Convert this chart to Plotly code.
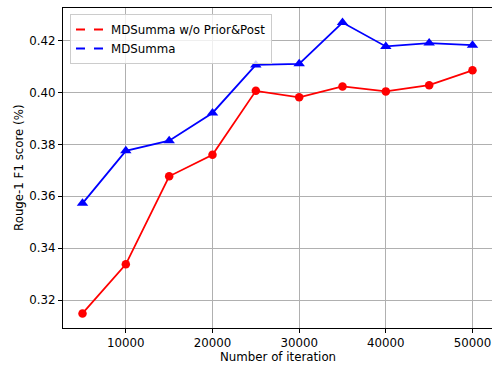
import plotly.graph_objects as go

iterations = [5000, 10000, 15000, 20000, 25000, 30000, 35000, 40000, 45000, 50000]
wo_prior_post = [0.3149, 0.3338, 0.3677, 0.3760, 0.4006, 0.3981, 0.4023, 0.4004, 0.4028, 0.4085]
mdsumma = [0.3573, 0.3775, 0.3814, 0.3921, 0.4106, 0.4110, 0.4269, 0.4177, 0.4190, 0.4182]
x_ticks = [10000, 20000, 30000, 40000, 50000]
y_ticks = [0.32, 0.34, 0.36, 0.38, 0.40, 0.42]

font = "DejaVu Sans"
fs = 11.8

fig = go.Figure()
fig.add_trace(go.Scatter(x=iterations, y=wo_prior_post, mode="lines+markers",
                         line=dict(color="red", width=1.8),
                         marker=dict(symbol="circle", size=8.5, color="red"),
                         showlegend=False))
fig.add_trace(go.Scatter(x=iterations, y=mdsumma, mode="lines+markers",
                         line=dict(color="blue", width=1.8),
                         marker=dict(symbol="triangle-up", size=10, color="blue"),
                         showlegend=False))
# legend-only dashed entries
fig.add_trace(go.Scatter(x=[None], y=[None], mode="lines", name="MDSumma w/o Prior&Post",
                         line=dict(color="red", width=1.8, dash="dash")))
fig.add_trace(go.Scatter(x=[None], y=[None], mode="lines", name="MDSumma",
                         line=dict(color="blue", width=1.8, dash="dash")))

xr = [2750, 52250]
ymin, ymax = min(wo_prior_post + mdsumma), max(wo_prior_post + mdsumma)
pad = (ymax - ymin) * 0.05
yr = [ymin - pad, ymax + pad]

axis_common = dict(showline=True, linecolor="black", linewidth=1, mirror=True,
                   showgrid=True, gridcolor="#b0b0b0", gridwidth=0.9,
                   ticks="outside", ticklen=4, tickcolor="black", zeroline=False,
                   automargin=False,
                   tickfont=dict(family=font, size=fs, color="black"))

W, H = 492, 365
L, R, T, B = 63, 0, 8, 37
PW, PH = W - L - R, H - T - B

fig.update_layout(
    width=W, height=H,
    margin=dict(l=L, r=R, t=T, b=B, pad=0),
    paper_bgcolor="white", plot_bgcolor="white",
    font=dict(family=font, size=fs, color="black"),
    xaxis=dict(range=xr, tickvals=x_ticks, ticktext=[str(v) for v in x_ticks], **axis_common),
    yaxis=dict(range=yr, tickvals=y_ticks, ticktext=[f"{v:.2f}" for v in y_ticks], **axis_common),
    legend=dict(x=(70 - L) / PW, y=1 - (14 - T) / PH, xanchor="left", yanchor="top",
                bgcolor="rgba(255,255,255,0.8)", bordercolor="#cccccc", borderwidth=1,
                font=dict(family=font, size=fs), itemwidth=30, tracegroupgap=0),
    annotations=[
        dict(text="Number of iteration", xref="paper", yref="paper",
             x=(278 - L) / PW, y=-(357 - (H - B)) / PH,
             xanchor="center", yanchor="middle", showarrow=False,
             font=dict(family=font, size=fs, color="black")),
        dict(text="Rouge-1 F1 score (%)", xref="paper", yref="paper",
             x=-(L - 19) / PW, y=0.5, textangle=-90,
             xanchor="center", yanchor="middle", showarrow=False,
             font=dict(family=font, size=fs, color="black")),
    ],
)

fig.write_html("out.html", config={"displayModeBar": False},
               post_script="document.body.style.margin='0';document.body.style.overflow='hidden';")
